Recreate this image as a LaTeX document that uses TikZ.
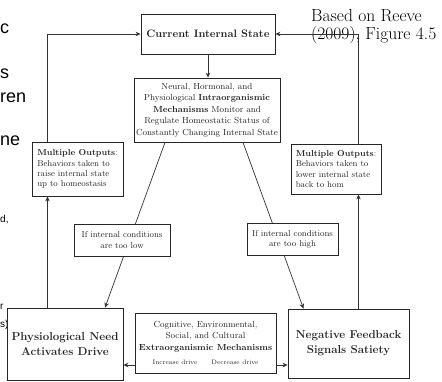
\documentclass[tikz,border=0pt]{standalone}
\usepackage{fontspec}
\newfontfamily\slidesans{Liberation Sans}
\usetikzlibrary{arrows.meta}
\tikzset{
  box/.style={draw=black!85, line width=0.8pt, fill=white, inner sep=0pt,
              align=center, text=black!85},
  conn/.style={draw=black!80, line width=0.7pt},
  tip/.style={-{Stealth[length=5pt,width=4.5pt]}},
  body/.style={font=\fontsize{8.8}{11.5}\selectfont},
  small/.style={font=\fontsize{8.6}{10.3}\selectfont},
  heading/.style={font=\fontsize{10.8}{14}\selectfont\bfseries},
  bighead/.style={font=\fontsize{11.5}{15}\selectfont\bfseries},
  note/.style={font=\fontsize{17.5}{19}\selectfont, inner sep=0pt, anchor=base west},
  frag/.style={font=\slidesans\fontsize{18}{22}\selectfont, inner sep=0pt, anchor=base west},
  fragsmall/.style={font=\slidesans\fontsize{10}{12}\selectfont, inner sep=0pt, anchor=base west}
}
\begin{document}
\begin{tikzpicture}[x=1pt, y=-1pt]
\useasboundingbox (0,0) rectangle (442,381);

% slide text along the left edge
\node[frag] (f1) at (0,33) {c};
\node[frag] (f2) at (0,78) {s};
\node[frag] (f3) at (0,102) {ren};
\node[frag] (f4) at (0,145) {ne};
\node[fragsmall] (f5) at (0,222) {d,};
\node[fragsmall] (f6) at (0,309) {r};
\node[fragsmall] (f7) at (0,327) {s)};

% source note
\node[note] (src1) at (311,21) {Based on Reeve};
\node[note] (src2) at (311,39) {(\oldstylenums{2009}), Figure \oldstylenums{4}.\oldstylenums{5}};

% boxes
\node[box, heading, minimum width=134pt, minimum height=40pt] (cur) at (208,34) {Current Internal State};
\node[box, body, minimum width=146pt, minimum height=64pt] (intra) at (207,110)
  {Neural, Hormonal, and\\Physiological \textbf{Intraorganismic}\\\textbf{Mechanisms} Monitor and\\Regulate Homeostatic Status of\\Constantly Changing Internal State};
\node[box, small, align=left, minimum width=91pt, minimum height=54pt] (mol) at (77.5,169)
  {\textbf{Multiple Outputs}:\\Behaviors taken to\\raise internal state\\up to homeostasis};
\node[box, small, align=left, minimum width=90pt, minimum height=50pt] (mor) at (336,169)
  {\textbf{Multiple Outputs}:\\Behaviors taken to\\lower internal state\\back to hom\hspace{26pt}\mbox{}};
\node[box, bighead, minimum width=116pt, minimum height=72pt] (phys) at (65,344)
  {Physiological Need\\Activates Drive};
\node[box, bighead, minimum width=121pt, minimum height=69pt] (neg) at (348.5,343.5)
  {Negative Feedback\\Signals Satiety};
\node[box, body, minimum width=141pt, minimum height=60pt] (extra) at (205.5,343)
  {Cognitive, Environmental,\\Social, and Cultural\\\textbf{Extraorganismic Mechanisms}\\[3pt]
   {\fontsize{6.5}{8}\selectfont Increase drive\hspace{14pt}Decrease drive}};

% connectors
\coordinate (lx) at (47.5,0);
\coordinate (rx) at (358.5,0);
\coordinate (by) at (0,365);
\draw[conn,tip] (cur.south) -- (cur.south |- intra.north);
\draw[conn,tip] (lx |- mol.north) |- (cur.west);
\draw[conn,tip] (rx |- mor.north) |- (cur.east);
\draw[conn,tip] (lx |- phys.north) -- (lx |- mol.south);
\draw[conn,tip] (rx |- neg.north) -- (rx |- mor.south);
\draw[conn,tip] ([xshift=-42pt]intra.south) -- ([xshift=40pt]phys.north);
\draw[conn,tip] ([xshift=36pt]intra.south) -- ([xshift=-45pt]neg.north);
\draw[conn,tip] (extra.west |- by) -- (phys.east |- by);
\draw[conn,tip] (extra.east |- by) -- (neg.west |- by);

% condition boxes sit on top of the diagonal lines
\node[box, small, minimum width=96pt, minimum height=32pt] (low) at (122,240)
  {If internal conditions\\are too low};
\node[box, small, minimum width=91pt, minimum height=32pt] (high) at (292.5,239)
  {If internal conditions\\are too high};
\end{tikzpicture}
\end{document}
